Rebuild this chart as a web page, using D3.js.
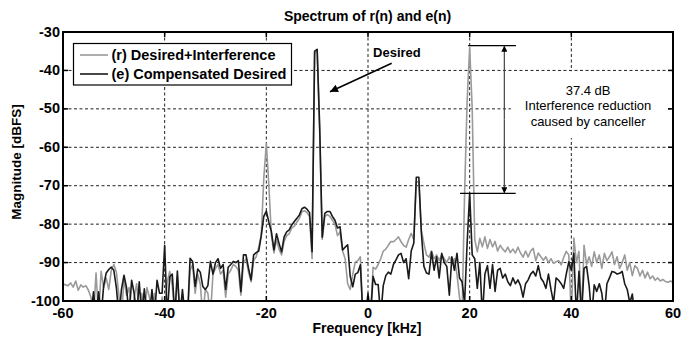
<!DOCTYPE html>
<html>
<head>
<meta charset="utf-8">
<script src="https://cdn.jsdelivr.net/npm/d3@7"></script>
<style>
  body { margin: 0; background: #fff; }
  svg text { font-family: "Liberation Sans", Arial, sans-serif; }
</style>
</head>
<body>
<figure id="chart" style="margin:0"></figure>
<script>
// frequency bins: -60 kHz .. 60 kHz, one value every 0.5 kHz
const binStart = -60;
const binStep = 0.5;

// (r) Desired+Interference, dBFS (values below -100 are off the axis)
const desiredPlusInterference = [
  -95.6, -95.8, -96.0, -95.3, -96.4, -94.8, -97.2, -95.8, -96.4, -96.0,   // -60
  -97.2, -99.0, -104, -92.7, -104, -92.3, -96.5, -94, -97, -92,           // -55
  -90.5, -92.5, -98.5, -104, -94.2, -98.5, -96.5, -104, -99, -95.5,       // -50
  -104, -98, -104, -96.5, -99, -104, -98, -104, -104, -99,                // -45
  -104, -95, -92.3, -96, -104, -93.5, -104, -98.5, -104, -104,            // -40
  -92, -90.5, -98, -93, -95.5, -104, -97, -98, -104, -93,                 // -35
  -91.5, -90.5, -93, -92, -99, -93, -92, -90.5, -91, -92,                 // -30
  -98.5, -90, -89, -92.5, -95, -89.5, -88.5, -86, -83, -68,               // -25
  -59, -70, -83, -87.5, -84, -86.5, -88, -84.5, -83, -82.5,               // -20
  -81, -80.5, -79.5, -78.5, -76.8, -76.5, -77, -78, -89, -35.5,           // -15
  -35, -56, -84, -78, -77.5, -78, -79, -80, -83, -82,                     // -10
  -87, -89, -95.5, -97, -93, -89.9, -89.5, -88.5, -104, -104,             // -5
  -104, -104, -91.2, -91.7, -90.5, -89, -87, -86.5, -85.5, -84.5,         // 0
  -84.6, -84, -83.3, -84.6, -85.5, -86, -84, -82.4, -84, -69,             // 5
  -69, -81.6, -85, -88, -88.6, -87, -89, -88, -89.5, -88,                 // 10
  -89, -90, -88.5, -90, -89, -93, -99, -104, -72, -48,                    // 15
  -34, -50, -84, -87.2, -83.7, -85.9, -83.3, -86.3, -84, -85.9,           // 20
  -84.5, -87, -85.5, -86.5, -87.2, -86, -87.4, -86.5, -87.5, -86,         // 25
  -87.5, -88.6, -87, -88.5, -87, -86.3, -89.5, -87.5, -88.5, -89.4,       // 30
  -88.5, -90, -89, -90.2, -89.8, -89.5, -90.6, -88.6, -87.1, -88,         // 35
  -104, -83.6, -90, -87.1, -104, -85.5, -90.5, -88.5, -91, -87.2,         // 40
  -90, -88, -91.5, -87.6, -89.5, -88.5, -87.2, -90.5, -88.5, -91.5,       // 45
  -90, -88, -92, -90, -93.4, -90.8, -91.5, -93.5, -92, -94,               // 50
  -92.5, -94.2, -93.5, -94.6, -94, -94.8, -94.4, -94.9, -95.1, -94.8,     // 55
  -95.2                                                                   // 60
];

// (e) Compensated Desired, dBFS
const compensatedDesired = [
  -104, -104, -104, -104, -104, -104, -104, -104, -104, -104,             // -60
  -104, -104, -97.6, -104, -97.6, -104, -96, -92.7, -91.8, -91.2,         // -55
  -92, -96.5, -104, -97, -93.3, -96.5, -104, -94.6, -98, -104,            // -50
  -95, -104, -96.8, -104, -104, -97, -104, -94.6, -98, -98,               // -45
  -85.5, -104, -93.7, -93, -104, -92.2, -104, -97, -104, -104,            // -40
  -88.9, -89.7, -96.2, -91.7, -92.5, -96.2, -97, -96, -89.7, -93,         // -35
  -90, -89, -91.5, -90.5, -97, -91.2, -90.5, -89.7, -90, -89.5,           // -30
  -97.6, -88, -88, -91.5, -94.5, -88, -87.4, -87, -83, -78,               // -25
  -76.6, -79.5, -82, -86.7, -82.5, -85, -87.2, -83.3, -82, -81.5,         // -20
  -80.2, -79.3, -78.5, -77.6, -76, -75.6, -76.1, -77, -87.2, -35,         // -15
  -34.5, -55, -83.4, -77.2, -76.7, -76.7, -78, -79, -81, -80.7,           // -10
  -86.7, -86, -85.4, -93.6, -96.3, -93, -92.6, -90.6, -104, -104,         // -5
  -98, -104, -93.6, -95.7, -95.7, -104, -96, -93.4, -92.5, -93,           // 0
  -90.5, -89.3, -88, -87.6, -90, -89, -94.2, -87, -85, -67.8,             // 5
  -67.8, -82.3, -91, -92.7, -93, -87.2, -92, -88.5, -94, -87.6,           // 10
  -90, -91, -98.5, -88.5, -92, -87.6, -94, -95, -100.5, -85,              // 15
  -72, -88, -89, -96.7, -90, -104, -93, -90.8, -96.7, -90.5,              // 20
  -97.5, -92, -91.5, -94, -93, -95, -96, -94, -95.5, -94.5,               // 25
  -96, -99, -95.5, -94.5, -93, -92.3, -93.5, -90.8, -94, -95,             // 30
  -96.7, -93, -97, -100.5, -94, -94.6, -95.5, -96.7, -93, -89.8,          // 35
  -92, -87.6, -104, -92.3, -104, -91.5, -91, -96, -104, -95.8,            // 40
  -97.5, -95.5, -98, -104, -95.5, -94, -92.3, -92.5, -93, -92.8,          // 45
  -92.3, -95.5, -97, -100.5, -98.2, -104, -104, -104, -104, -104,         // 50
  -104, -104, -104, -104, -104, -104, -104, -104, -104, -104,             // 55
  -104                                                                    // 60
];

const xTicks = [-60, -40, -20, 0, 20, 40, 60];
const yTicks = [-100, -90, -80, -70, -60, -50, -40, -30];
const seriesNames = ["(r) Desired+Interference", "(e) Compensated Desired"];
const seriesColors = ["#9a9a9a", "#1a1a1a"];
const noteLines = ["37.4 dB", "Interference reduction", "caused by canceller"];

const W = 692, H = 340;
const margin = { top: 32, right: 19, bottom: 39, left: 63 };
const width = W - margin.left - margin.right;
const height = H - margin.top - margin.bottom;

const svg = d3.select("figure#chart")
  .append("svg")
  .attr("width", W)
  .attr("height", H);

const g = svg.append("g")
  .attr("transform", `translate(${margin.left},${margin.top})`);

const x = d3.scaleLinear().domain([-60, 60]).range([0, width]);
const y = d3.scaleLinear().domain([-100, -30]).range([height, 0]);

svg.append("defs").append("clipPath").attr("id", "plotClip")
  .append("rect").attr("width", width).attr("height", height);

// dotted grid
g.append("g").selectAll("line")
  .data(xTicks.slice(1, -1))
  .enter().append("line")
  .attr("x1", d => x(d)).attr("x2", d => x(d))
  .attr("y1", 0).attr("y2", height)
  .attr("stroke", "#222").attr("stroke-dasharray", "3,2.5");
g.append("g").selectAll("line")
  .data(yTicks.slice(1, -1))
  .enter().append("line")
  .attr("y1", d => y(d)).attr("y2", d => y(d))
  .attr("x1", 0).attr("x2", width)
  .attr("stroke", "#222").attr("stroke-dasharray", "3,2.5");

// spectra
const line = d3.line()
  .x((d, i) => x(binStart + i * binStep))
  .y(d => y(d));

[desiredPlusInterference, compensatedDesired].forEach((vals, k) => {
  g.append("path")
    .datum(vals)
    .attr("clip-path", "url(#plotClip)")
    .attr("fill", "none")
    .attr("stroke", seriesColors[k])
    .attr("stroke-width", 1.6)
    .attr("stroke-linejoin", "round")
    .attr("d", line);
});

// white box behind the note
g.append("rect")
  .attr("x", x(28.1)).attr("y", y(-40.2))
  .attr("width", x(58.8) - x(28.1)).attr("height", y(-57.6) - y(-40.2))
  .attr("fill", "#fff");

noteLines.forEach((t, i) => {
  g.append("text")
    .attr("x", x(43.3)).attr("y", y(-46.4) + i * 15.3)
    .attr("text-anchor", "middle")
    .attr("font-size", 13)
    .text(t);
});

// arrow heads
const defs = svg.select("defs");
defs.append("marker").attr("id", "head")
  .attr("viewBox", "0 0 10 10").attr("refX", 10).attr("refY", 5)
  .attr("markerWidth", 6).attr("markerHeight", 6)
  .attr("markerUnits", "userSpaceOnUse")
  .attr("orient", "auto")
  .append("path").attr("d", "M0,0L10,5L0,10Z").attr("fill", "#000");
defs.append("marker").attr("id", "bighead")
  .attr("viewBox", "0 0 10 10").attr("refX", 10).attr("refY", 5)
  .attr("markerWidth", 10).attr("markerHeight", 8)
  .attr("markerUnits", "userSpaceOnUse")
  .attr("orient", "auto")
  .append("path").attr("d", "M0,0L10,5L0,10Z").attr("fill", "#000");

// 37.4 dB measurement lines
g.append("line")
  .attr("x1", x(19.7)).attr("x2", x(29.1))
  .attr("y1", y(-33.56)).attr("y2", y(-33.56))
  .attr("stroke", "#000").attr("stroke-width", 1.2);
g.append("line")
  .attr("x1", x(18.1)).attr("x2", x(29.05))
  .attr("y1", y(-71.97)).attr("y2", y(-71.97))
  .attr("stroke", "#000").attr("stroke-width", 1.2);
g.append("line")
  .attr("x1", x(26.82)).attr("x2", x(26.82))
  .attr("y1", y(-52.8)).attr("y2", y(-33.56))
  .attr("stroke", "#444").attr("stroke-width", 1.2)
  .attr("marker-end", "url(#head)");
g.append("line")
  .attr("x1", x(26.82)).attr("x2", x(26.82))
  .attr("y1", y(-52.8)).attr("y2", y(-71.97))
  .attr("stroke", "#444").attr("stroke-width", 1.2)
  .attr("marker-end", "url(#head)");

// "Desired" arrow
g.append("line")
  .attr("x1", x(4.66)).attr("y1", y(-38.14))
  .attr("x2", x(-7.48)).attr("y2", y(-45.53))
  .attr("stroke", "#000").attr("stroke-width", 1.6)
  .attr("marker-end", "url(#bighead)");
g.append("text")
  .attr("x", x(1.0)).attr("y", y(-36.5))
  .attr("font-size", 13).attr("font-weight", "bold")
  .text("Desired");

// axes box with inward ticks
g.append("rect")
  .attr("width", width).attr("height", height)
  .attr("fill", "none").attr("stroke", "#000").attr("stroke-width", 2);
const tickLen = 5;
xTicks.forEach(t => {
  g.append("line").attr("x1", x(t)).attr("x2", x(t)).attr("y1", height).attr("y2", height - tickLen).attr("stroke", "#000").attr("stroke-width", 1.5);
  g.append("line").attr("x1", x(t)).attr("x2", x(t)).attr("y1", 0).attr("y2", tickLen).attr("stroke", "#000").attr("stroke-width", 1.5);
  g.append("text")
    .attr("x", x(t)).attr("y", height + 16.5)
    .attr("text-anchor", "middle")
    .attr("font-size", 14.5).attr("font-weight", "bold")
    .text(t);
});
yTicks.forEach(t => {
  g.append("line").attr("x1", 0).attr("x2", tickLen).attr("y1", y(t)).attr("y2", y(t)).attr("stroke", "#000").attr("stroke-width", 1.5);
  g.append("line").attr("x1", width).attr("x2", width - tickLen).attr("y1", y(t)).attr("y2", y(t)).attr("stroke", "#000").attr("stroke-width", 1.5);
  g.append("text")
    .attr("x", -3).attr("y", y(t) + 4.5)
    .attr("text-anchor", "end")
    .attr("font-size", 14.5).attr("font-weight", "bold")
    .text(t);
});

// titles
svg.append("text")
  .attr("x", 367.5).attr("y", 21)
  .attr("text-anchor", "middle")
  .attr("font-size", 14).attr("font-weight", "bold")
  .text("Spectrum of r(n) and e(n)");
svg.append("text")
  .attr("x", 367).attr("y", 333)
  .attr("text-anchor", "middle")
  .attr("font-size", 14).attr("font-weight", "bold")
  .text("Frequency [kHz]");
svg.append("text")
  .attr("transform", "translate(21,162) rotate(-90)")
  .attr("text-anchor", "middle")
  .attr("font-size", 13.5).attr("font-weight", "bold")
  .text("Magnitude [dBFS]");

// legend
const lg = svg.append("g").attr("transform", "translate(73.5,43.5)");
lg.append("rect")
  .attr("width", 218).attr("height", 41.5)
  .attr("fill", "#fff").attr("stroke", "#000").attr("stroke-width", 1.2);
seriesNames.forEach((name, i) => {
  const yy = 11.5 + i * 19;
  lg.append("line")
    .attr("x1", 6.5).attr("x2", 34.5).attr("y1", yy).attr("y2", yy)
    .attr("stroke", seriesColors[i]).attr("stroke-width", 1.6);
  lg.append("text")
    .attr("x", 38).attr("y", yy + 5)
    .attr("font-size", 14.5).attr("font-weight", "bold")
    .text(name);
});
</script>
</body>
</html>
